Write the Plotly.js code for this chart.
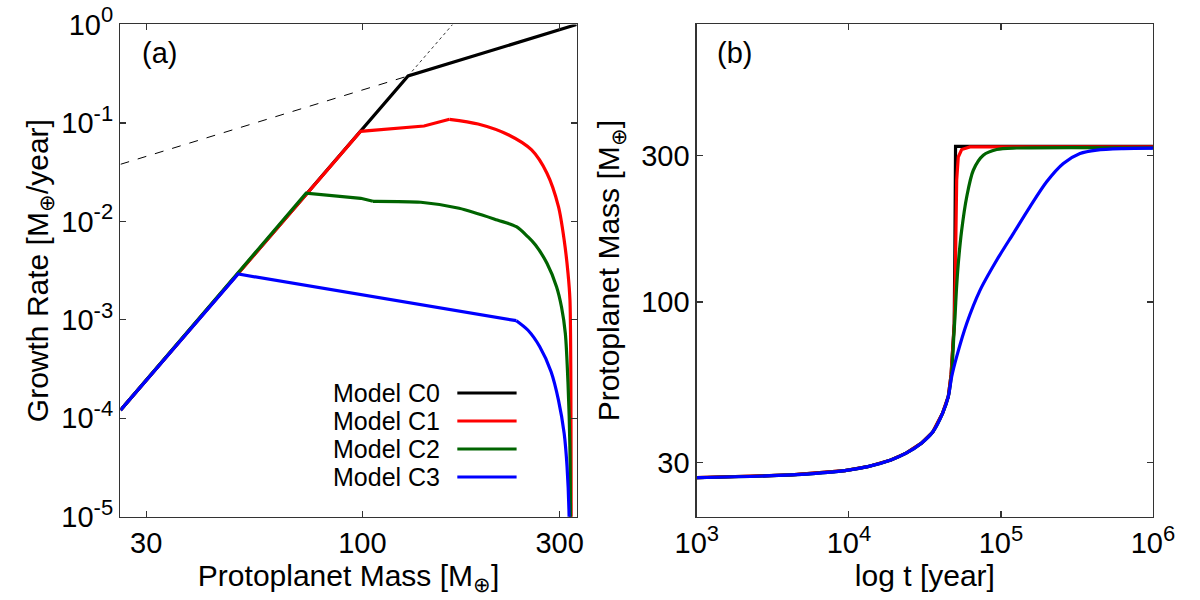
<!DOCTYPE html>
<html>
<head>
<meta charset="utf-8">
<script src="https://cdn.plot.ly/plotly-3.0.1.min.js"></script>
<style>
  html, body { margin: 0; padding: 0; background: #fff; }
  #chart { width: 1200px; height: 600px; }
</style>
</head>
<body>
<div id="chart"></div>
<script>
// ---- Panel (a): growth rate [M_earth/yr] versus protoplanet mass [M_earth] ----
const massC0 = [26, 129, 330];
const rateC0 = [1.21e-4, 0.30, 1.0];

const massC1 = [26, 99, 141, 162.5, 190.5, 226, 256.7, 279.6, 298.1, 307.7, 314.4, 317.8, 319.3, 319.8, 320.1];
const rateC1 = [1.21e-4, 0.082, 0.0931, 0.1088, 0.0975, 0.0754, 0.0531, 0.0308, 0.0141, 0.00647, 0.00297, 0.00159, 3e-4, 3e-5, 1e-6];

const massC2 = [26, 73.1, 99.1, 106.1, 138.5, 171.4, 212, 235.8, 251.3, 262.3, 279.6, 294.9, 303.2, 309.7, 314.4, 317.8, 319.3];
const rateC2 = [1.21e-4, 0.0193, 0.01715, 0.016, 0.01563, 0.01359, 0.01033, 0.00883, 0.00699, 0.00575, 0.00375, 0.00217, 0.00135, 7.3e-4, 2.26e-4, 4.8e-5, 1e-6];

const massC3 = [26, 50.07, 235.8, 251.3, 268.6, 286.1, 298.1, 307.7, 312.7, 316.3, 316.7];
const rateC3 = [1.21e-4, 2.92e-3, 9.8e-4, 7.88e-4, 5.33e-4, 2.97e-4, 1.53e-4, 7.03e-5, 3.22e-5, 1e-5, 1e-6];

// index from which each growth-rate curve bends smoothly (before it: straight pieces)
const rateCurveStart = [null, 3, 3, 2];

// thin guide lines: shallow (dashed) and steep (dotted) growth laws
const guideShallowMass = [26, 129];
const guideShallowRate = [0.038, 0.30];
const guideSteepMass = [129, 165.3];
const guideSteepRate = [0.30, 1.0];

// ---- Panel (b): protoplanet mass versus time [yr] ----
// common early growth shared by all models
const timeEarly = [1000, 4180, 9420, 13300, 18900, 23800, 30000, 35700, 41300, 45060];
const massEarly = [26.8, 27.35, 28.26, 29.1, 30.6, 32.2, 34.7, 37.8, 43.4, 49.2];

const timeC0 = [47000, 49300, 49800, 49950, 50300, 1e6];
const growC0 = [58, 85, 150, 310, 321, 321];

const timeC1 = [47000, 49400, 50100, 50640, 51170, 52430, 55190, 62600, 1e6];
const growC1 = [58, 85, 120, 171, 249, 296.4, 313.3, 319.6, 320];

const timeC2 = [47600, 49100, 49890, 51000, 52430, 55190, 59550, 65820, 76560, 93750, 126900, 1e6];
const growC2 = [60, 79, 89.6, 110, 133.3, 171.1, 219.6, 268.3, 300.2, 313.3, 317, 317.5];

const timeC3 = [47430, 51170, 59550, 72840, 93750, 120600, 155200, 199900, 257300, 331100, 426600, 638000, 1e6];
const growC3 = [57.1, 66.4, 85.1, 109.1, 136.7, 167, 204, 246, 282.1, 304, 312, 315.5, 316.5];

// ---- labels ----
const modelNames = ['Model C0', 'Model C1', 'Model C2', 'Model C3'];
const modelColors = ['#000000', '#ff0000', '#006400', '#0000ff'];
const sup = s => "<sup><span style='font-size:22px'>" + s + "</span></sup>";
const rateTicks = [1e-5, 1e-4, 1e-3, 1e-2, 1e-1, 1];
const rateTickText = ['-5', '-4', '-3', '-2', '-1', '0'].map(e => '10' + sup(e));
const massTicks = [30, 100, 300];
const massTickText = ['30', '100', '300'];
const timeTicks = [1e3, 1e4, 1e5, 1e6];
const timeTickText = ['3', '4', '5', '6'].map(e => '10' + sup(e));

const FONT = '"Liberation Sans", Arial, Helvetica, sans-serif';
const LW = 3.2;

const rateSeries = [[massC0, rateC0], [massC1, rateC1], [massC2, rateC2], [massC3, rateC3]];
const timeSeries = [[timeC0, growC0], [timeC1, growC1], [timeC2, growC2], [timeC3, growC3]];
const timeSmooth = [false, false, true, true];

const traces = [];
traces.push({x: guideShallowMass, y: guideShallowRate, xaxis: 'x', yaxis: 'y', mode: 'lines',
  line: {color: '#000', width: 1, dash: 'dash'}, showlegend: false, hoverinfo: 'skip'});
traces.push({x: guideSteepMass, y: guideSteepRate, xaxis: 'x', yaxis: 'y', mode: 'lines',
  line: {color: '#000', width: 0.8, dash: 'dot'}, showlegend: false, hoverinfo: 'skip'});

rateSeries.forEach(([m, r], i) => {
  const k = rateCurveStart[i];
  const straightEnd = k === null ? m.length : k + 1;
  traces.push({x: m.slice(0, straightEnd), y: r.slice(0, straightEnd), xaxis: 'x', yaxis: 'y',
    mode: 'lines', name: modelNames[i], line: {color: modelColors[i], width: LW}, showlegend: false});
  if (k !== null) {
    traces.push({x: m.slice(k), y: r.slice(k), xaxis: 'x', yaxis: 'y', mode: 'lines', name: modelNames[i],
      line: {color: modelColors[i], width: LW, shape: 'spline', smoothing: 0.8}, showlegend: false});
  }
});
timeSeries.forEach(([t, m], i) => {
  const line = {color: modelColors[i], width: LW};
  if (timeSmooth[i]) { line.shape = 'spline'; line.smoothing = 0.8; }
  traces.push({x: timeEarly.concat(t), y: massEarly.concat(m), xaxis: 'x2', yaxis: 'y2', mode: 'lines',
    name: modelNames[i], line: line, showlegend: false});
});

// legend drawn as text on the left, line sample on the right
const legendTextX = 0.3683, legendLineX0 = 0.3811, legendLineX1 = 0.4305;
const legendY = [0.345, 0.2983, 0.2517, 0.205];
const annotations = modelNames.map((n, i) => ({
  xref: 'paper', yref: 'paper', x: legendTextX, y: legendY[i], xanchor: 'right', yanchor: 'middle',
  text: n, showarrow: false, font: {family: FONT, size: 25, color: '#000'}
}));
const shapes = modelNames.map((n, i) => ({
  type: 'line', xref: 'paper', yref: 'paper', x0: legendLineX0, x1: legendLineX1,
  y0: legendY[i], y1: legendY[i], line: {color: modelColors[i], width: LW}
}));
annotations.push({xref: 'paper', yref: 'paper', x: 0.1325, y: 0.912, xanchor: 'center', yanchor: 'middle',
  text: '(a)', showarrow: false, font: {family: FONT, size: 29, color: '#000'}});
annotations.push({xref: 'paper', yref: 'paper', x: 0.612, y: 0.912, xanchor: 'center', yanchor: 'middle',
  text: '(b)', showarrow: false, font: {family: FONT, size: 29, color: '#000'}});

const axisCommon = {
  showline: true, linecolor: '#333', linewidth: 1.5, mirror: 'ticks',
  ticks: 'inside', ticklen: 6, tickwidth: 1.2, tickcolor: '#333',
  showgrid: false, zeroline: false, type: 'log',
  tickfont: {family: FONT, size: 29, color: '#000'}
};

const layout = {
  width: 1200, height: 600,
  margin: {l: 0, r: 0, t: 0, b: 0},
  paper_bgcolor: '#fff', plot_bgcolor: '#fff',
  font: {family: FONT, color: '#000'},
  showlegend: false,
  xaxis: Object.assign({}, axisCommon, {
    domain: [0.1004, 0.4806], range: [Math.log10(26), Math.log10(330)],
    tickmode: 'array', tickvals: massTicks, ticktext: massTickText, anchor: 'y',
    title: {text: 'Protoplanet Mass [M<sub>⊕</sub>]', font: {family: FONT, size: 30}, standoff: 2}
  }),
  yaxis: Object.assign({}, axisCommon, {
    domain: [0.1388, 0.9592], range: [-5, 0],
    tickmode: 'array', tickvals: rateTicks, ticktext: rateTickText, anchor: 'x',
    title: {text: 'Growth Rate [M<sub>⊕</sub>/year]', font: {family: FONT, size: 30}, standoff: 4}
  }),
  xaxis2: Object.assign({}, axisCommon, {
    domain: [0.5807, 0.9608], range: [3, 6],
    tickmode: 'array', tickvals: timeTicks, ticktext: timeTickText, anchor: 'y2',
    title: {text: 'log t [year]', font: {family: FONT, size: 30}, standoff: 2}
  }),
  yaxis2: Object.assign({}, axisCommon, {
    domain: [0.1388, 0.9592], range: [Math.log10(20), Math.log10(800)],
    tickmode: 'array', tickvals: massTicks, ticktext: massTickText, anchor: 'x2',
    title: {text: 'Protoplanet Mass [M<sub>⊕</sub>]', font: {family: FONT, size: 30}, standoff: 12}
  }),
  annotations: annotations,
  shapes: shapes
};

Plotly.newPlot('chart', traces, layout, {displayModeBar: false, staticPlot: true});
</script>
</body>
</html>
